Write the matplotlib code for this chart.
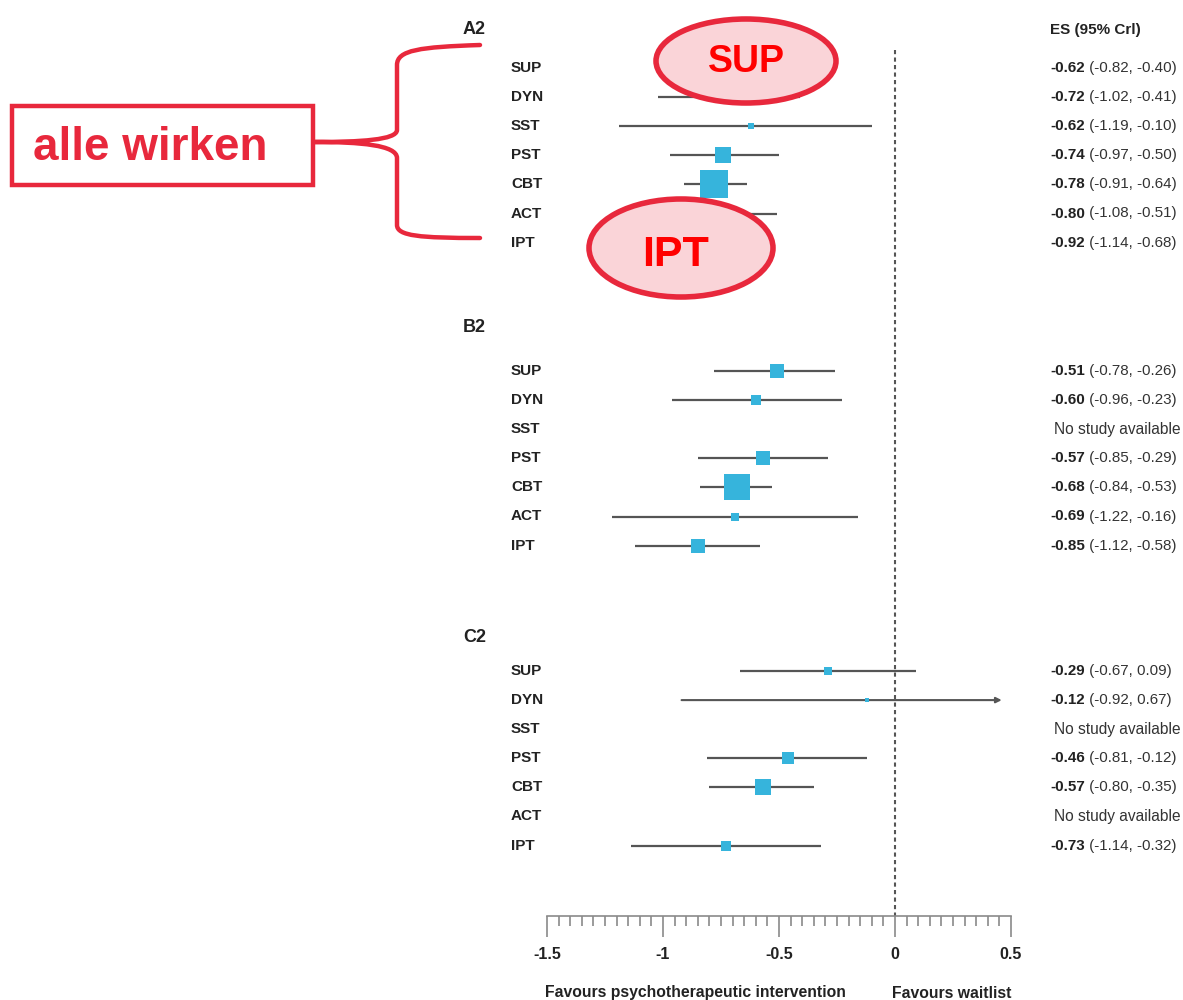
import numpy as np
import matplotlib
matplotlib.use('Agg')
import matplotlib.pyplot as plt
from matplotlib.patches import Ellipse, Rectangle, PathPatch
from matplotlib.path import Path

plt.rcParams['font.family'] = ['Liberation Sans', 'DejaVu Sans']

# data
treatments = ['SUP', 'DYN', 'SST', 'PST', 'CBT', 'ACT', 'IPT']
panels = ['A2', 'B2', 'C2']

es_a2 = [-0.62, -0.72, -0.62, -0.74, -0.78, -0.80, -0.92]
lo_a2 = [-0.82, -1.02, -1.19, -0.97, -0.91, -1.08, -1.14]
hi_a2 = [-0.40, -0.41, -0.10, -0.50, -0.64, -0.51, -0.68]
w_a2 = [14, 10, 7, 16, 28, 10, 16]

es_b2 = [-0.51, -0.60, None, -0.57, -0.68, -0.69, -0.85]
lo_b2 = [-0.78, -0.96, None, -0.85, -0.84, -1.22, -1.12]
hi_b2 = [-0.26, -0.23, None, -0.29, -0.53, -0.16, -0.58]
w_b2 = [15, 11, 0, 14, 26, 8, 15]

es_c2 = [-0.29, -0.12, None, -0.46, -0.57, None, -0.73]
lo_c2 = [-0.67, -0.92, None, -0.81, -0.80, None, -1.14]
hi_c2 = [0.09, 0.67, None, -0.12, -0.35, None, -0.32]
w_c2 = [9, 4, 0, 13, 16, 0, 10]

panel_data = [(es_a2, lo_a2, hi_a2, w_a2),
              (es_b2, lo_b2, hi_b2, w_b2),
              (es_c2, lo_c2, hi_c2, w_c2)]

# layout (pixel coords)
W, H = 1183, 1000
header_y = [30, 327, 637]
first_row = [68, 371, 671]
row_step = 29.1
x_min, x_max = -1.5, 0.5
x_clip = 0.46
axis_y = 916
es_x = 1050

fig = plt.figure(figsize=(W / 100, H / 100), dpi=100)
ov = fig.add_axes([0, 0, 1, 1])
ov.set_xlim(0, W)
ov.set_ylim(H, 0)
ov.axis('off')

ax = fig.add_axes([547 / W, 0, 464 / W, 1])
ax.set_xlim(x_min, x_max)
ax.set_ylim(H, 0)
ax.patch.set_alpha(0)
for s in ['top', 'left', 'right']:
    ax.spines[s].set_visible(False)
ax.spines['bottom'].set_position(('data', axis_y))
ax.spines['bottom'].set_color('#8a8a8a')
ax.spines['bottom'].set_linewidth(1.2)
ax.set_yticks([])
ax.set_xticks([-1.5, -1, -0.5, 0, 0.5])
ax.set_xticklabels(['-1.5', '-1', '-0.5', '0', '0.5'], fontweight='bold', fontsize=11.5,
                   color='#222222')
ax.set_xticks(np.arange(-1.5, 0.5001, 0.05), minor=True)
ax.tick_params(axis='x', which='major', length=15, width=1.2, color='#8a8a8a', pad=7)
ax.tick_params(axis='x', which='minor', length=7, width=1.2, color='#8a8a8a')

ax.vlines(0, 50, axis_y, colors='#555555', linestyles=(0, (2, 1.6)), lw=1.5, zorder=1)

sq_color = '#36b4dc'
line_color = '#555555'

for p, name in enumerate(panels):
    ov.text(463, header_y[p], name, fontsize=13, fontweight='bold', va='center', color='#222222')
    es, lo, hi, w = panel_data[p]
    for i, t in enumerate(treatments):
        y = first_row[p] + i * row_step
        ov.text(511, y, t, fontsize=11, fontweight='bold', va='center', color='#222222')
        if es[i] is None:
            ov.text(es_x + 4, y, 'No study available', fontsize=11.2, va='center', color='#333333')
            continue
        if hi[i] > x_clip:
            ax.annotate('', xy=(x_clip, y), xytext=(lo[i], y),
                        arrowprops=dict(arrowstyle='-|>', color=line_color, lw=1.5,
                                        mutation_scale=8, shrinkA=0, shrinkB=0), zorder=2)
        else:
            ax.plot([lo[i], hi[i]], [y, y], color=line_color, lw=1.6, zorder=2,
                    solid_capstyle='butt')
        ax.plot(es[i], y, marker='s', ms=w[i] / 1.389, color=sq_color, mec=sq_color,
                mew=0, zorder=3, linestyle='none')
        b = ov.text(es_x, y, f'{es[i]:.2f}', fontsize=10.9, fontweight='bold',
                    va='center', color='#222222')
        ov.annotate(f' ({lo[i]:.2f}, {hi[i]:.2f})', xy=(1, 0), xycoords=b,
                    fontsize=10.9, va='bottom', ha='left', color='#333333')

ov.text(es_x, 30, 'ES (95% Crl)', fontsize=11, fontweight='bold', va='center', color='#222222')
ov.text(695, 993, 'Favours psychotherapeutic intervention', fontsize=11.3, fontweight='bold',
        ha='center', va='center', color='#222222')
ov.text(952, 993, 'Favours waitlist', fontsize=11.3, fontweight='bold',
        ha='center', va='center', color='#222222')

# red annotations, on their own layer above the plot
top = fig.add_axes([0, 0, 1, 1])
top.set_xlim(0, W)
top.set_ylim(H, 0)
top.axis('off')

red = '#e8283c'
top.add_patch(Rectangle((12, 106), 301, 79, fill=False, ec=red, lw=3.2))
top.text(33, 148, 'alle wirken', fontsize=33, fontweight='bold', color=red,
         va='center', ha='left')

verts = [(480, 45), (420, 47), (397, 50), (397, 65),
         (397, 130),
         (397, 140), (360, 142), (315, 142),
         (360, 142), (397, 145), (397, 158),
         (397, 225),
         (397, 236), (420, 238), (480, 238)]
codes = [Path.MOVETO, Path.CURVE4, Path.CURVE4, Path.CURVE4,
         Path.LINETO,
         Path.CURVE4, Path.CURVE4, Path.CURVE4,
         Path.CURVE4, Path.CURVE4, Path.CURVE4,
         Path.LINETO,
         Path.CURVE4, Path.CURVE4, Path.CURVE4]
top.add_patch(PathPatch(Path(verts, codes), fill=False, ec=red, lw=3.2,
                        capstyle='round', joinstyle='round'))

top.add_patch(Ellipse((746, 61), 180, 84, fc='#fad4d8', ec=red, lw=4))
top.text(746, 62, 'SUP', fontsize=27, fontweight='bold', color='#ff0000',
         ha='center', va='center')
top.add_patch(Ellipse((681, 248), 184, 98, fc='#fad4d8', ec=red, lw=4))
top.text(676, 255, 'IPT', fontsize=31, fontweight='bold', color='#ff0000',
         ha='center', va='center')

fig.savefig('out.png', dpi=100)
